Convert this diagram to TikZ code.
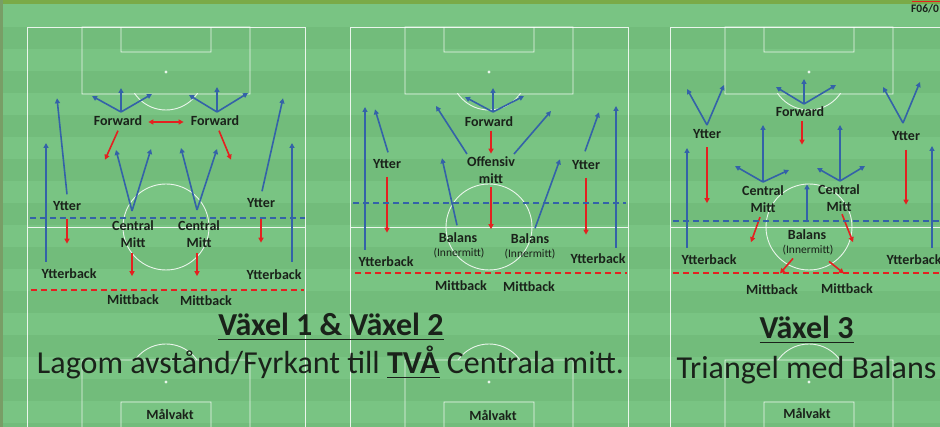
\documentclass[tikz,border=0pt]{standalone}
\usepackage{fontspec}
\setmainfont{Carlito}
\usetikzlibrary{arrows.meta}
\definecolor{turf}{RGB}{121,196,131}
\definecolor{turfdark}{RGB}{114,188,123}
\definecolor{topband}{RGB}{122,170,72}
\definecolor{sideband}{RGB}{120,158,102}
\definecolor{runblue}{RGB}{52,98,168}
\definecolor{dropred}{RGB}{228,32,32}
\definecolor{ink}{RGB}{26,34,26}
\newsavebox{\ulbox}
\newcommand{\undl}[1]{\sbox\ulbox{#1}\rlap{\rule[-4.5pt]{\wd\ulbox}{1.8pt}}\usebox\ulbox}

\begin{document}
\begin{tikzpicture}[x=1pt,y=-1pt,>={Triangle[length=5pt,width=5pt]},run/.style={->,runblue,line width=1.6pt},drop/.style={->,dropred,line width=1.6pt},swaprun/.style={<->,dropred,line width=1.6pt},pline/.style={white,line width=0.9pt,opacity=0.85},bline/.style={runblue,line width=1.3pt,dash pattern=on 6pt off 4pt},rline/.style={dropred,line width=1.5pt,dash pattern=on 6pt off 4pt},lbl/.style={ink,font=\bfseries\fontsize{14}{17}\selectfont,inner sep=0pt,text height=10pt,text depth=3pt},duo/.style={ink,font=\bfseries\fontsize{14}{17}\selectfont,inner sep=0pt,align=center},sub/.style={ink,font=\fontsize{11.5}{13}\selectfont,inner sep=0pt,text height=8pt,text depth=2.5pt},big/.style={ink,font=\bfseries\fontsize{32}{38}\selectfont,inner sep=0pt,anchor=base},say/.style={ink,font=\fontsize{32}{38}\selectfont,inner sep=0pt,anchor=base}]
\useasboundingbox (0,0) rectangle (940,427); \clip (0,0) rectangle (940,427);
% grass
\fill[turf] (0,0) rectangle (940,427);
\foreach \yy in {27,71,...,427} \fill[turfdark] (0,\yy) rectangle (940,\yy+22);
\fill[topband] (0,0) rectangle (940,4); \fill[sideband] (0,0) rectangle (3,427);
\draw[dropred,line width=1.5pt] (912,1.5) -- (940,1.5);
\node[ink,font=\bfseries\fontsize{11.5}{13}\selectfont,inner sep=0pt,anchor=base west] (code) at (911,13) {F06/0};
% three pitches
\foreach \cx in {166,489,809}{
\begin{scope}[xshift=\cx pt]
\draw[pline] (-139,430) -- (-139,27) -- (139,27) -- (139,430) (-139,227) -- (139,227);
\draw[pline] (-84,27) rectangle (84,94) (-45,27) rectangle (45,52) (-84,430) rectangle (84,360) (-45,430) rectangle (45,402) (0,227) circle[radius=43pt];
\fill[white,opacity=0.85] (0,72) circle[radius=1.6pt] (0,382) circle[radius=1.6pt];
\begin{scope} \clip (-60,94) rectangle (60,130); \draw[pline] (0,72) circle[radius=38pt]; \end{scope}
\begin{scope} \clip (-60,320) rectangle (60,360); \draw[pline] (0,382) circle[radius=38pt]; \end{scope}
\end{scope}}

% pitch 1: Vaxel 1 & 2, two forwards
\node[lbl] (fw11) at (118,122) {Forward}; \node[lbl] (fw12) at (215,122) {Forward};
\draw[swaprun] ([xshift=6pt]fw11.east) -- ([xshift=-7pt]fw12.west);
\coordinate (h11) at (121,112); \coordinate (h12) at (217,112);
\draw[run] (h11) -- ++(-29,-16); \draw[run] (h11) -- ++(0,-24); \draw[run] (h11) -- ++(31,-18);
\draw[run] (h12) -- ++(-28,-17); \draw[run] (h12) -- ++(0,-25); \draw[run] (h12) -- ++(31,-19);
\draw[drop] ([yshift=-2pt]fw11.south) -- ++(-13,29); \draw[drop] ([xshift=4pt,yshift=-2pt]fw12.south) -- ++(12,29);
\coordinate (v11) at (132,211); \coordinate (v12) at (197,210);
\draw[run] (v11) -- ++(-16,-61); \draw[run] (v11) -- ++(19,-62); \draw[run] (v12) -- ++(-16,-62); \draw[run] (v12) -- ++(20,-61);
\node[duo] (cm11) at (133,234.5) {Central\\Mitt}; \node[duo] (cm12) at (199,234.5) {Central\\Mitt};
\draw[drop] ([xshift=-1pt,yshift=-5pt]cm11.south) -- ++(0,23); \draw[drop] ([xshift=-2pt,yshift=-5pt]cm12.south) -- ++(0,23);
\node[lbl] (yt11) at (67,207) {Ytter}; \node[lbl] (yt12) at (261,204) {Ytter};
\draw[run] ([yshift=6pt]yt11.north) -- ++(-10,-96); \draw[drop] ([yshift=-5pt]yt11.south) -- ++(0,25);
\draw[run] ([xshift=1pt,yshift=6pt]yt12.north) -- ++(21,-93); \draw[drop] ([yshift=-7pt]yt12.south) -- ++(0,25);
\node[lbl] (yb11) at (69,275) {Ytterback}; \node[lbl] (yb12) at (274,276) {Ytterback};
\coordinate (wb11) at (46,262); \coordinate (wb12) at (292,262);
\draw[run] (wb11) -- ++(0,-119); \draw[run] (wb12) -- ++(0,-119);
\draw[bline] (30,218) -- (305,218); \draw[rline] (31,290) -- (304,290);
\node[lbl] (mb11) at (133,301) {Mittback}; \node[lbl] (mb12) at (206,302) {Mittback};
\node[lbl] (gk1) at (170,416) {Målvakt};

% pitch 2: offensiv mitt and two balans
\node[lbl] (fw2) at (489,123) {Forward};
\coordinate (h2) at (493,112);
\draw[run] (h2) -- ++(-28,-15); \draw[run] (h2) -- ++(0,-24); \draw[run] (h2) -- ++(31,-16);
\draw[drop] ([xshift=2pt,yshift=-1pt]fw2.south) -- ++(0,23);
\node[duo] (om2) at (491,170.5) {Offensiv\\mitt};
\coordinate (o2l) at (467,154); \coordinate (o2r) at (514,154);
\draw[run] (o2l) -- ++(-31,-48); \draw[run] (o2r) -- ++(37,-43);
\draw[drop] ([yshift=-3pt]om2.south) -- ++(0,42);
\node[lbl] (bl21) at (458,239) {Balans}; \node[sub] (in21) at (459,254) {(Innermitt)};
\node[lbl] (bl22) at (530,240) {Balans}; \node[sub] (in22) at (530,255) {(Innermitt)};
\draw[run] ([xshift=-1pt,yshift=7pt]bl21.north) -- ++(-15,-67); \draw[run] ([xshift=5pt,yshift=5pt]bl22.north) -- ++(25,-69);
\node[lbl] (yt21) at (387,165) {Ytter}; \node[lbl] (yt22) at (586,166) {Ytter};
\draw[run] ([xshift=1pt,yshift=6pt]yt21.north) -- ++(-13,-43); \draw[drop] ([yshift=-5pt]yt21.south) -- ++(0,56);
\draw[run] ([xshift=-1pt,yshift=8pt]yt22.north) -- ++(14,-39); \draw[drop] ([yshift=-5pt]yt22.south) -- ++(0,57);
\node[lbl] (yb21) at (386,263) {Ytterback}; \node[lbl] (yb22) at (598,260) {Ytterback};
\coordinate (wb21) at (365,250); \coordinate (wb22) at (616,248);
\draw[run] (wb21) -- ++(0,-143); \draw[run] (wb22) -- ++(0,-142);
\draw[bline] (353,203) -- (626,203); \draw[rline] (355,273) -- (627,273);
\node[lbl] (mb21) at (461,287) {Mittback}; \node[lbl] (mb22) at (529,288) {Mittback};
\node[lbl] (gk2) at (493,417) {Målvakt};

% pitch 3: triangle with one balans
\node[lbl] (fw3) at (800,113) {Forward};
\coordinate (h3) at (804,104);
\draw[run] (h3) -- ++(-28,-17); \draw[run] (h3) -- ++(0,-25); \draw[run] (h3) -- ++(32,-19);
\draw[drop] ([xshift=2pt,yshift=-1pt]fw3.south) -- ++(0,24);
\node[lbl] (yt31) at (707,135.5) {Ytter}; \node[lbl] (yt32) at (906,137) {Ytter};
\coordinate (v31) at (707,125); \coordinate (v32) at (903,123);
\draw[run] (v31) -- ++(-20,-36); \draw[run] (v31) -- ++(17,-40); \draw[run] (v32) -- ++(-20,-36); \draw[run] (v32) -- ++(17,-41);
\draw[drop] ([yshift=-5pt]yt31.south) -- ++(0,56); \draw[drop] ([yshift=-6pt]yt32.south) -- ++(0,55);
\coordinate (wb31) at (687,248); \coordinate (wb32) at (932,248);
\draw[run] (wb31) -- ++(0,-100); \draw[run] (wb32) -- ++(0,-102);
\node[duo] (cm31) at (763,199.5) {Central\\Mitt}; \node[duo] (cm32) at (839,198.5) {Central\\Mitt};
\coordinate (c31) at (763,182); \coordinate (c32) at (840,181);
\draw[run] (c31) -- ++(0,-57); \draw[run] (c31) -- ++(-28,-16); \draw[run] (c31) -- ++(26,-12);
\draw[run] (c32) -- ++(0,-56); \draw[run] (c32) -- ++(-23,-13); \draw[run] (c32) -- ++(25,-15);
\node[lbl] (bl3) at (807,236) {Balans}; \node[sub] (in3) at (808,251) {(Innermitt)};
\draw[run] ([yshift=7pt]bl3.north) -- ++(0,-38);
\draw[drop] ([xshift=-3pt,yshift=-4pt]cm31.south) -- ++(-9,25); \draw[drop] ([xshift=3pt,yshift=-2pt]cm32.south) -- ++(11,28);
\draw[drop] ([xshift=-15pt,yshift=-2pt]in3.south) -- ++(-13,15); \draw[drop] ([xshift=21pt,yshift=-5pt]in3.south) -- ++(15,12);
\node[lbl] (yb31) at (709,261) {Ytterback}; \node[lbl] (yb32) at (914,261) {Ytterback};
\draw[bline] (673,221) -- (945,221); \draw[rline] (673,273) -- (945,273);
\node[lbl] (mb31) at (772,291) {Mittback}; \node[lbl] (mb32) at (847,290) {Mittback};
\node[lbl] (gk3) at (807,415) {Målvakt};

% captions
\node[big] (head12) at (331,336) {\undl{Växel 1 \& Växel 2}};
\node[say] (text12) at (330.5,374) {Lagom avstånd/Fyrkant till \textbf{\undl{TVÅ}} Centrala mitt.};
\node[big] (head3) at (806.5,339) {\undl{Växel 3}};
\node[say] (text3) at (806.5,379) {Triangel med Balans};
\end{tikzpicture}
\end{document}
